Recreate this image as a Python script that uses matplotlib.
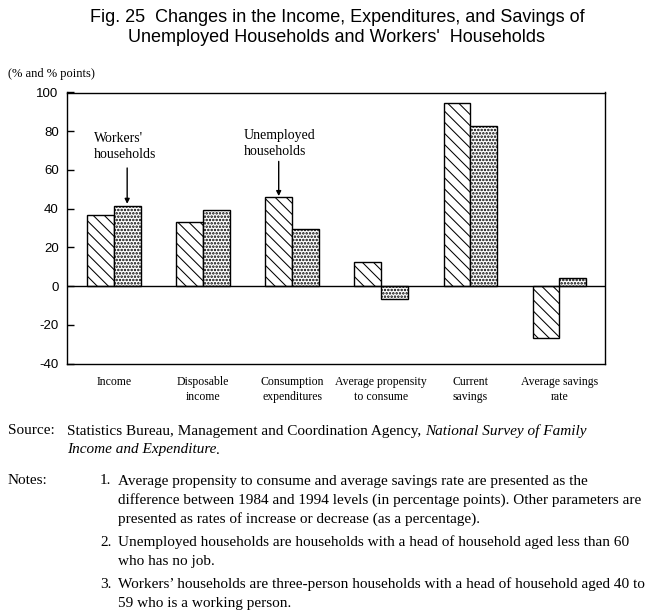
import matplotlib
matplotlib.use("Agg")
import matplotlib.pyplot as plt
import numpy as np

categories = ["Income", "Disposable\nincome", "Consumption\nexpenditures",
              "Average propensity\nto consume", "Current\nsavings", "Average savings\nrate"]
unemployed = [36.5, 33.0, 46.0, 12.4, 94.5, -26.9]
workers = [41.3, 39.2, 29.4, -6.7, 82.6, 4.1]
yticks = [-40, -20, 0, 20, 40, 60, 80, 100]

W, H = 649, 616
fig = plt.figure(figsize=(W / 100, H / 100), dpi=100)

def fx(px):
    return px / W

def fy(py):
    return 1 - py / H

ax = fig.add_axes([fx(67), fy(363.5), fx(604.5) - fx(67), fy(92.5) - fy(363.5)])

x = np.arange(len(categories))
bw = 0.30
with plt.rc_context({'hatch.linewidth': 0.75}):
    ax.bar(x - bw / 2, unemployed, width=bw, color='white', edgecolor='black',
           hatch='\\\\\\', linewidth=1.0, zorder=2)
with plt.rc_context({'hatch.linewidth': 1.2}):
    ax.bar(x + bw / 2, workers, width=bw, color='white', edgecolor='black',
           hatch='.....', linewidth=1.0, zorder=2)
ax.axhline(0, color='black', linewidth=1.0, zorder=3)

ax.set_xlim(-0.525, 5.505)
ax.set_ylim(-40, 100)
ax.set_yticks(yticks)
ax.set_yticklabels([str(v) for v in yticks], family='Liberation Sans', fontsize=9.5)
ax.tick_params(axis='y', direction='in', length=5, width=1.0, pad=6)
ax.set_xticks(x)
ax.set_xticklabels(categories, family='Liberation Serif', fontsize=8.5, linespacing=1.3)
ax.tick_params(axis='x', length=0, pad=9)
for sp in ax.spines.values():
    sp.set_linewidth(1.0)

# annotations
ax.text(-0.22, 72.0, "Workers'\nhouseholds", family='Liberation Serif', fontsize=10,
        ha='left', va='center', linespacing=1.3)
ax.annotate("", xy=(0 + bw / 2, 42.5), xytext=(0 + bw / 2, 61.0),
            arrowprops=dict(arrowstyle='-|>', color='black', lw=1.0,
                            mutation_scale=7, shrinkA=0, shrinkB=0))
ax.text(1.46, 73.5, "Unemployed\nhouseholds", family='Liberation Serif', fontsize=10,
        ha='left', va='center', linespacing=1.3)
ax.annotate("", xy=(2 - bw / 2, 46.5), xytext=(2 - bw / 2, 64.4),
            arrowprops=dict(arrowstyle='-|>', color='black', lw=1.0,
                            mutation_scale=7, shrinkA=0, shrinkB=0))

# title
fig.text(fx(337), fy(17), "Fig. 25  Changes in the Income, Expenditures, and Savings of",
         family='Liberation Sans', fontsize=13, ha='center', va='center')
fig.text(fx(337), fy(38), "Unemployed Households and Workers'  Households",
         family='Liberation Sans', fontsize=13, ha='center', va='center')
fig.text(fx(8), fy(74), "(% and % points)", family='Liberation Serif', fontsize=9,
         ha='left', va='center')

# source and notes
serif = 'Liberation Serif'
fs = 11
fig.text(fx(8), fy(431), "Source:", family=serif, fontsize=fs, va='center')
t1 = "Statistics Bureau, Management and Coordination Agency, "
tt = fig.text(fx(67), fy(431), t1, family=serif, fontsize=fs, va='center')
fig.canvas.draw()
bb = tt.get_window_extent()
fig.text(bb.x1 / W, fy(431), "National Survey of Family", family=serif, fontsize=fs,
         style='italic', va='center')
t2 = fig.text(fx(67), fy(450), "Income and Expenditure", family=serif, fontsize=fs,
              style='italic', va='center')
fig.canvas.draw()
bb2 = t2.get_window_extent()
fig.text(bb2.x1 / W, fy(450), ".", family=serif, fontsize=fs, va='center')

fig.text(fx(8), fy(481), "Notes:", family=serif, fontsize=fs, va='center')
notes = [
    ("1.", ["Average propensity to consume and average savings rate are presented as the",
            "difference between 1984 and 1994 levels (in percentage points). Other parameters are",
            "presented as rates of increase or decrease (as a percentage)."], 481),
    ("2.", ["Unemployed households are households with a head of household aged less than 60",
            "who has no job."], 542),
    ("3.", ["Workers\u2019 households are three-person households with a head of household aged 40 to",
            "59 who is a working person."], 584),
]
for num, lines, y0 in notes:
    fig.text(fx(100), fy(y0), num, family=serif, fontsize=fs, va='center')
    for i, ln in enumerate(lines):
        fig.text(fx(118), fy(y0 + 19 * i), ln, family=serif, fontsize=fs, va='center')

fig.savefig("out.png", dpi=100)
